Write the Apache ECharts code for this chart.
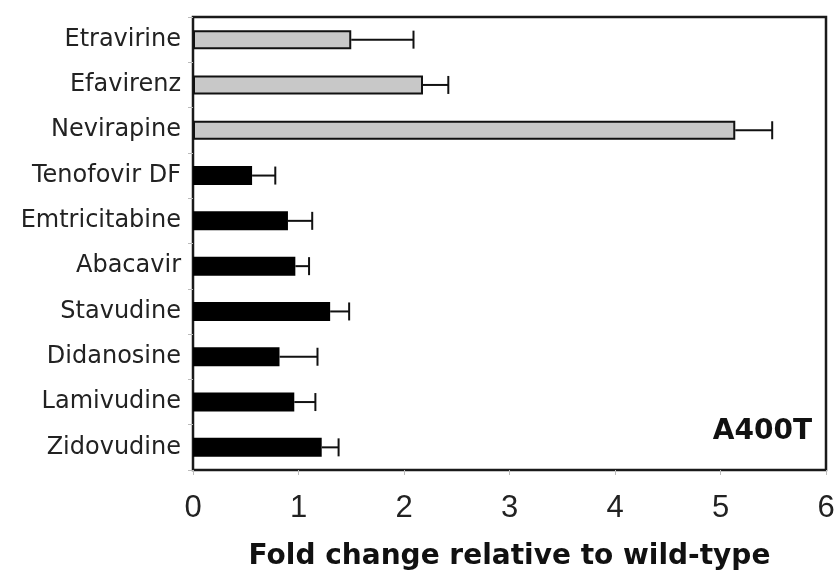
<!DOCTYPE html>
<html>
<head>
<meta charset="utf-8">
<script src="https://cdn.jsdelivr.net/npm/echarts@6/dist/echarts.min.js"></script>
<style>html,body{margin:0;padding:0;background:#fff}#c{width:838px;height:576px}</style>
</head>
<body>
<div id="c"></div>
<script>
var drugs = ['Etravirine','Efavirenz','Nevirapine','Tenofovir DF','Emtricitabine','Abacavir','Stavudine','Didanosine','Lamivudine','Zidovudine'];
var foldChange = [1.50, 2.18, 5.14, 0.56, 0.90, 0.97, 1.30, 0.82, 0.96, 1.22];
var errorUpper = [2.09, 2.42, 5.49, 0.78, 1.13, 1.10, 1.48, 1.18, 1.16, 1.38];
var nnrtiCount = 3;
var xTicks = [0, 1, 2, 3, 4, 5, 6];
var panelLabel = 'A400T';
var axisTitle = 'Fold change relative to wild-type';

var chart = echarts.init(document.getElementById('c'));
var barData = foldChange.map(function (v, i) {
  return {
    value: v,
    itemStyle: i < nnrtiCount
      ? { color: '#c8c8c8', borderColor: '#111', borderWidth: 2 }
      : { color: '#000', borderColor: '#000', borderWidth: 0 }
  };
});
var errData = foldChange.map(function (v, i) { return [i, v, errorUpper[i]]; });

chart.setOption({
  animation: false,
  grid: { left: 193, right: 12, top: 17, bottom: 105, show: true, borderColor: '#1a1a1a', borderWidth: 2.5, backgroundColor: 'transparent' },
  xAxis: {
    type: 'value', min: xTicks[0], max: xTicks[xTicks.length - 1], interval: 1,
    splitLine: { show: false },
    axisLine: { show: false },
    axisTick: { show: true, length: 5, lineStyle: { color: '#bbb', width: 1 } },
    axisLabel: { color: '#222', fontSize: 31, fontFamily: 'Liberation Sans', margin: 23 },
    name: axisTitle, nameLocation: 'middle', nameGap: 73,
    nameTextStyle: { color: '#111', fontSize: 28, fontWeight: 'bold', fontFamily: 'DejaVu Sans' }
  },
  yAxis: {
    type: 'category', data: drugs, inverse: true,
    axisLine: { show: false },
    axisTick: { show: true, length: 5, lineStyle: { color: '#bbb', width: 1 } },
    axisLabel: { color: '#222', fontSize: 24, fontFamily: 'DejaVu Sans', margin: 12 }
  },
  series: [
    { type: 'bar', data: barData, barWidth: 19 },
    {
      type: 'custom', data: errData, z: 3,
      renderItem: function (params, api) {
        var c = api.value(0);
        var p0 = api.coord([api.value(1), c]);
        var p1 = api.coord([api.value(2), c]);
        var h = 9;
        var st = { stroke: '#111', lineWidth: 2 };
        return {
          type: 'group',
          children: [
            { type: 'line', shape: { x1: p0[0], y1: p0[1], x2: p1[0], y2: p1[1] }, style: st },
            { type: 'line', shape: { x1: p1[0], y1: p1[1] - h, x2: p1[0], y2: p1[1] + h }, style: st }
          ]
        };
      }
    }
  ],
  graphic: [
    { type: 'text', right: 26, top: 418, style: { text: panelLabel, fill: '#111', font: 'bold 28px "DejaVu Sans"' } }
  ]
});
</script>
</body>
</html>
